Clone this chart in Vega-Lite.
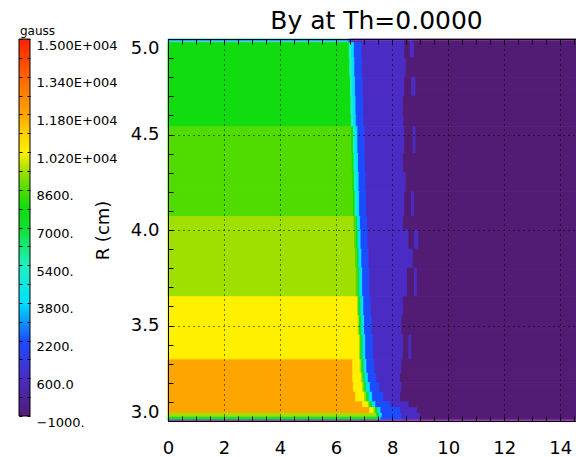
{
  "$schema": "https://vega.github.io/schema/vega-lite/v6.json",
  "autosize": {"type": "pad"},
  "padding": {"left": 18, "top": 8, "right": 0, "bottom": 0},
  "background": "white",
  "spacing": 138,
  "bounds": "flush",
  "config": {
    "view": {"stroke": "black", "strokeWidth": 1},
    "axis": {"labelFont": "DejaVu Sans", "titleFont": "DejaVu Sans", "labelColor": "black", "tickColor": "black"}
  },
  "datasets": {
    "cells": [
      {"z0":0,"z1":6.46,"r0":4.98,"r1":5,"By":4600},{"z0":6.46,"z1":6.6,"r0":4.98,"r1":5,"By":2200},{"z0":6.6,"z1":8.42,"r0":4.98,"r1":5,"By":600},{"z0":8.42,"z1":8.6,"r0":4.98,"r1":5,"By":-1000},{"z0":8.6,"z1":8.75,"r0":4.98,"r1":5,"By":600},{"z0":8.75,"z1":14.6,"r0":4.98,"r1":5,"By":-1000},

      {"z0":0,"z1":6.47,"r0":4.9,"r1":4.98,"By":7800},{"z0":6.47,"z1":6.55,"r0":4.9,"r1":4.98,"By":5400},{"z0":6.55,"z1":6.65,"r0":4.9,"r1":4.98,"By":3800},{"z0":6.65,"z1":6.92,"r0":4.9,"r1":4.98,"By":2200},{"z0":6.92,"z1":8.45,"r0":4.9,"r1":4.98,"By":600},{"z0":8.45,"z1":8.65,"r0":4.9,"r1":4.98,"By":-1000},{"z0":8.65,"z1":8.8,"r0":4.9,"r1":4.98,"By":600},{"z0":8.8,"z1":14.6,"r0":4.9,"r1":4.98,"By":-1000},

      {"z0":0,"z1":6.49,"r0":4.8,"r1":4.9,"By":7800},{"z0":6.49,"z1":6.57,"r0":4.8,"r1":4.9,"By":5400},{"z0":6.57,"z1":6.67,"r0":4.8,"r1":4.9,"By":3800},{"z0":6.67,"z1":6.94,"r0":4.8,"r1":4.9,"By":2200},{"z0":6.94,"z1":8.5,"r0":4.8,"r1":4.9,"By":600},{"z0":8.5,"z1":14.6,"r0":4.8,"r1":4.9,"By":-1000},

      {"z0":0,"z1":6.51,"r0":4.7,"r1":4.8,"By":7800},{"z0":6.51,"z1":6.59,"r0":4.7,"r1":4.8,"By":5400},{"z0":6.59,"z1":6.69,"r0":4.7,"r1":4.8,"By":3800},{"z0":6.69,"z1":6.96,"r0":4.7,"r1":4.8,"By":2200},{"z0":6.96,"z1":8.45,"r0":4.7,"r1":4.8,"By":600},{"z0":8.45,"z1":8.7,"r0":4.7,"r1":4.8,"By":-1000},{"z0":8.7,"z1":8.85,"r0":4.7,"r1":4.8,"By":600},{"z0":8.85,"z1":14.6,"r0":4.7,"r1":4.8,"By":-1000},

      {"z0":0,"z1":6.53,"r0":4.6,"r1":4.7,"By":7800},{"z0":6.53,"z1":6.61,"r0":4.6,"r1":4.7,"By":5400},{"z0":6.61,"z1":6.71,"r0":4.6,"r1":4.7,"By":3800},{"z0":6.71,"z1":6.98,"r0":4.6,"r1":4.7,"By":2200},{"z0":6.98,"z1":8.4,"r0":4.6,"r1":4.7,"By":600},{"z0":8.4,"z1":14.6,"r0":4.6,"r1":4.7,"By":-1000},

      {"z0":0,"z1":6.54,"r0":4.54,"r1":4.6,"By":7800},{"z0":6.54,"z1":6.62,"r0":4.54,"r1":4.6,"By":5400},{"z0":6.62,"z1":6.72,"r0":4.54,"r1":4.6,"By":3800},{"z0":6.72,"z1":6.99,"r0":4.54,"r1":4.6,"By":2200},{"z0":6.99,"z1":8.42,"r0":4.54,"r1":4.6,"By":600},{"z0":8.42,"z1":14.6,"r0":4.54,"r1":4.6,"By":-1000},

      {"z0":0,"z1":6.56,"r0":4.4,"r1":4.54,"By":8600},{"z0":6.56,"z1":6.62,"r0":4.4,"r1":4.54,"By":7800},{"z0":6.62,"z1":6.68,"r0":4.4,"r1":4.54,"By":5400},{"z0":6.68,"z1":6.78,"r0":4.4,"r1":4.54,"By":3800},{"z0":6.78,"z1":7.03,"r0":4.4,"r1":4.54,"By":2200},{"z0":7.03,"z1":8.45,"r0":4.4,"r1":4.54,"By":600},{"z0":8.45,"z1":8.75,"r0":4.4,"r1":4.54,"By":-1000},{"z0":8.75,"z1":8.85,"r0":4.4,"r1":4.54,"By":600},{"z0":8.85,"z1":14.6,"r0":4.4,"r1":4.54,"By":-1000},

      {"z0":0,"z1":6.58,"r0":4.3,"r1":4.4,"By":8600},{"z0":6.58,"z1":6.64,"r0":4.3,"r1":4.4,"By":7800},{"z0":6.64,"z1":6.7,"r0":4.3,"r1":4.4,"By":5400},{"z0":6.7,"z1":6.8,"r0":4.3,"r1":4.4,"By":3800},{"z0":6.8,"z1":7.05,"r0":4.3,"r1":4.4,"By":2200},{"z0":7.05,"z1":8.4,"r0":4.3,"r1":4.4,"By":600},{"z0":8.4,"z1":14.6,"r0":4.3,"r1":4.4,"By":-1000},

      {"z0":0,"z1":6.6,"r0":4.2,"r1":4.3,"By":8600},{"z0":6.6,"z1":6.66,"r0":4.2,"r1":4.3,"By":7800},{"z0":6.66,"z1":6.72,"r0":4.2,"r1":4.3,"By":5400},{"z0":6.72,"z1":6.82,"r0":4.2,"r1":4.3,"By":3800},{"z0":6.82,"z1":7.07,"r0":4.2,"r1":4.3,"By":2200},{"z0":7.07,"z1":8.5,"r0":4.2,"r1":4.3,"By":600},{"z0":8.5,"z1":14.6,"r0":4.2,"r1":4.3,"By":-1000},

      {"z0":0,"z1":6.62,"r0":4.07,"r1":4.2,"By":8600},{"z0":6.62,"z1":6.68,"r0":4.07,"r1":4.2,"By":7800},{"z0":6.68,"z1":6.74,"r0":4.07,"r1":4.2,"By":5400},{"z0":6.74,"z1":6.84,"r0":4.07,"r1":4.2,"By":3800},{"z0":6.84,"z1":7.09,"r0":4.07,"r1":4.2,"By":2200},{"z0":7.09,"z1":8.45,"r0":4.07,"r1":4.2,"By":600},{"z0":8.45,"z1":8.7,"r0":4.07,"r1":4.2,"By":-1000},{"z0":8.7,"z1":8.8,"r0":4.07,"r1":4.2,"By":600},{"z0":8.8,"z1":14.6,"r0":4.07,"r1":4.2,"By":-1000},

      {"z0":0,"z1":6.64,"r0":4.0,"r1":4.07,"By":9400},{"z0":6.64,"z1":6.71,"r0":4.0,"r1":4.07,"By":8600},{"z0":6.71,"z1":6.77,"r0":4.0,"r1":4.07,"By":7000},{"z0":6.77,"z1":6.87,"r0":4.0,"r1":4.07,"By":3800},{"z0":6.87,"z1":7.12,"r0":4.0,"r1":4.07,"By":2200},{"z0":7.12,"z1":8.4,"r0":4.0,"r1":4.07,"By":600},{"z0":8.4,"z1":14.6,"r0":4.0,"r1":4.07,"By":-1000},

      {"z0":0,"z1":6.66,"r0":3.9,"r1":4.0,"By":9400},{"z0":6.66,"z1":6.73,"r0":3.9,"r1":4.0,"By":8600},{"z0":6.73,"z1":6.79,"r0":3.9,"r1":4.0,"By":7000},{"z0":6.79,"z1":6.89,"r0":3.9,"r1":4.0,"By":3800},{"z0":6.89,"z1":7.14,"r0":3.9,"r1":4.0,"By":2200},{"z0":7.14,"z1":8.6,"r0":3.9,"r1":4.0,"By":600},{"z0":8.6,"z1":8.8,"r0":3.9,"r1":4.0,"By":-1000},{"z0":8.8,"z1":8.95,"r0":3.9,"r1":4.0,"By":600},{"z0":8.95,"z1":14.6,"r0":3.9,"r1":4.0,"By":-1000},

      {"z0":0,"z1":6.69,"r0":3.8,"r1":3.9,"By":9400},{"z0":6.69,"z1":6.76,"r0":3.8,"r1":3.9,"By":8600},{"z0":6.76,"z1":6.82,"r0":3.8,"r1":3.9,"By":7000},{"z0":6.82,"z1":6.92,"r0":3.8,"r1":3.9,"By":3800},{"z0":6.92,"z1":7.17,"r0":3.8,"r1":3.9,"By":2200},{"z0":7.17,"z1":8.75,"r0":3.8,"r1":3.9,"By":600},{"z0":8.75,"z1":14.6,"r0":3.8,"r1":3.9,"By":-1000},

      {"z0":0,"z1":6.72,"r0":3.65,"r1":3.8,"By":9400},{"z0":6.72,"z1":6.79,"r0":3.65,"r1":3.8,"By":8600},{"z0":6.79,"z1":6.85,"r0":3.65,"r1":3.8,"By":7000},{"z0":6.85,"z1":6.95,"r0":3.65,"r1":3.8,"By":3800},{"z0":6.95,"z1":7.2,"r0":3.65,"r1":3.8,"By":2200},{"z0":7.2,"z1":8.55,"r0":3.65,"r1":3.8,"By":600},{"z0":8.55,"z1":8.8,"r0":3.65,"r1":3.8,"By":-1000},{"z0":8.8,"z1":8.9,"r0":3.65,"r1":3.8,"By":600},{"z0":8.9,"z1":14.6,"r0":3.65,"r1":3.8,"By":-1000},

      {"z0":0,"z1":6.76,"r0":3.55,"r1":3.65,"By":10200},{"z0":6.76,"z1":6.81,"r0":3.55,"r1":3.65,"By":9400},{"z0":6.81,"z1":6.89,"r0":3.55,"r1":3.65,"By":7000},{"z0":6.89,"z1":6.99,"r0":3.55,"r1":3.65,"By":3800},{"z0":6.99,"z1":7.24,"r0":3.55,"r1":3.65,"By":2200},{"z0":7.24,"z1":8.4,"r0":3.55,"r1":3.65,"By":600},{"z0":8.4,"z1":14.6,"r0":3.55,"r1":3.65,"By":-1000},

      {"z0":0,"z1":6.79,"r0":3.45,"r1":3.55,"By":10200},{"z0":6.79,"z1":6.84,"r0":3.45,"r1":3.55,"By":9400},{"z0":6.84,"z1":6.92,"r0":3.45,"r1":3.55,"By":7000},{"z0":6.92,"z1":7.02,"r0":3.45,"r1":3.55,"By":3800},{"z0":7.02,"z1":7.28,"r0":3.45,"r1":3.55,"By":2200},{"z0":7.28,"z1":8.35,"r0":3.45,"r1":3.55,"By":600},{"z0":8.35,"z1":14.6,"r0":3.45,"r1":3.55,"By":-1000},

      {"z0":0,"z1":6.83,"r0":3.32,"r1":3.45,"By":10200},{"z0":6.83,"z1":6.88,"r0":3.32,"r1":3.45,"By":9400},{"z0":6.88,"z1":6.96,"r0":3.32,"r1":3.45,"By":7000},{"z0":6.96,"z1":7.06,"r0":3.32,"r1":3.45,"By":3800},{"z0":7.06,"z1":7.33,"r0":3.32,"r1":3.45,"By":2200},{"z0":7.33,"z1":8.4,"r0":3.32,"r1":3.45,"By":600},{"z0":8.4,"z1":8.6,"r0":3.32,"r1":3.45,"By":-1000},{"z0":8.6,"z1":8.7,"r0":3.32,"r1":3.45,"By":600},{"z0":8.7,"z1":14.6,"r0":3.32,"r1":3.45,"By":-1000},

      {"z0":0,"z1":6.6,"r0":3.25,"r1":3.32,"By":11800},{"z0":6.6,"z1":6.86,"r0":3.25,"r1":3.32,"By":10200},{"z0":6.86,"z1":6.92,"r0":3.25,"r1":3.32,"By":9400},{"z0":6.92,"z1":7.0,"r0":3.25,"r1":3.32,"By":7000},{"z0":7.0,"z1":7.1,"r0":3.25,"r1":3.32,"By":3800},{"z0":7.1,"z1":7.38,"r0":3.25,"r1":3.32,"By":2200},{"z0":7.38,"z1":8.35,"r0":3.25,"r1":3.32,"By":600},{"z0":8.35,"z1":14.6,"r0":3.25,"r1":3.32,"By":-1000},

      {"z0":0,"z1":6.6,"r0":3.2,"r1":3.25,"By":11800},{"z0":6.6,"z1":6.9,"r0":3.2,"r1":3.25,"By":10200},{"z0":6.9,"z1":6.96,"r0":3.2,"r1":3.25,"By":9400},{"z0":6.96,"z1":7.04,"r0":3.2,"r1":3.25,"By":7000},{"z0":7.04,"z1":7.15,"r0":3.2,"r1":3.25,"By":3800},{"z0":7.15,"z1":7.45,"r0":3.2,"r1":3.25,"By":2200},{"z0":7.45,"z1":8.3,"r0":3.2,"r1":3.25,"By":600},{"z0":8.3,"z1":14.6,"r0":3.2,"r1":3.25,"By":-1000},

      {"z0":0,"z1":6.62,"r0":3.15,"r1":3.2,"By":11800},{"z0":6.62,"z1":6.95,"r0":3.15,"r1":3.2,"By":10200},{"z0":6.95,"z1":7.0,"r0":3.15,"r1":3.2,"By":9400},{"z0":7.0,"z1":7.1,"r0":3.15,"r1":3.2,"By":7000},{"z0":7.1,"z1":7.22,"r0":3.15,"r1":3.2,"By":3800},{"z0":7.22,"z1":7.55,"r0":3.15,"r1":3.2,"By":2200},{"z0":7.55,"z1":8.35,"r0":3.15,"r1":3.2,"By":600},{"z0":8.35,"z1":14.6,"r0":3.15,"r1":3.2,"By":-1000},

      {"z0":0,"z1":6.7,"r0":3.1,"r1":3.15,"By":11800},{"z0":6.7,"z1":7.02,"r0":3.1,"r1":3.15,"By":10200},{"z0":7.02,"z1":7.08,"r0":3.1,"r1":3.15,"By":9400},{"z0":7.08,"z1":7.18,"r0":3.1,"r1":3.15,"By":7000},{"z0":7.18,"z1":7.3,"r0":3.1,"r1":3.15,"By":3800},{"z0":7.3,"z1":7.7,"r0":3.1,"r1":3.15,"By":2200},{"z0":7.7,"z1":8.3,"r0":3.1,"r1":3.15,"By":600},{"z0":8.3,"z1":14.6,"r0":3.1,"r1":3.15,"By":-1000},

      {"z0":0,"z1":6.95,"r0":3.07,"r1":3.1,"By":11800},{"z0":6.95,"z1":7.15,"r0":3.07,"r1":3.1,"By":10200},{"z0":7.15,"z1":7.2,"r0":3.07,"r1":3.1,"By":9400},{"z0":7.2,"z1":7.3,"r0":3.07,"r1":3.1,"By":7000},{"z0":7.3,"z1":7.42,"r0":3.07,"r1":3.1,"By":3800},{"z0":7.42,"z1":7.95,"r0":3.07,"r1":3.1,"By":2200},{"z0":7.95,"z1":8.6,"r0":3.07,"r1":3.1,"By":600},{"z0":8.6,"z1":14.6,"r0":3.07,"r1":3.1,"By":-1000},

      {"z0":0,"z1":7.2,"r0":3.04,"r1":3.07,"By":11800},{"z0":7.2,"z1":7.35,"r0":3.04,"r1":3.07,"By":10200},{"z0":7.35,"z1":7.4,"r0":3.04,"r1":3.07,"By":9400},{"z0":7.4,"z1":7.5,"r0":3.04,"r1":3.07,"By":7000},{"z0":7.5,"z1":7.6,"r0":3.04,"r1":3.07,"By":3800},{"z0":7.6,"z1":8.3,"r0":3.04,"r1":3.07,"By":2200},{"z0":8.3,"z1":8.9,"r0":3.04,"r1":3.07,"By":600},{"z0":8.9,"z1":14.6,"r0":3.04,"r1":3.07,"By":-1000},

      {"z0":0,"z1":7.45,"r0":3.02,"r1":3.04,"By":9400},{"z0":7.45,"z1":7.55,"r0":3.02,"r1":3.04,"By":7000},{"z0":7.55,"z1":7.65,"r0":3.02,"r1":3.04,"By":3800},{"z0":7.65,"z1":8.35,"r0":3.02,"r1":3.04,"By":2200},{"z0":8.35,"z1":9.0,"r0":3.02,"r1":3.04,"By":600},{"z0":9.0,"z1":14.6,"r0":3.02,"r1":3.04,"By":-1000},

      {"z0":0,"z1":7.5,"r0":3.0,"r1":3.02,"By":7000},{"z0":7.5,"z1":7.6,"r0":3.0,"r1":3.02,"By":3800},{"z0":7.6,"z1":8.35,"r0":3.0,"r1":3.02,"By":2200},{"z0":8.35,"z1":9.0,"r0":3.0,"r1":3.02,"By":600},{"z0":9.0,"z1":14.6,"r0":3.0,"r1":3.02,"By":-1000}
    ]
  },
  "hconcat": [
    {
      "width": 11,
      "height": 377,
      "title": {"text": "gauss", "anchor": "start", "frame": "group", "font": "DejaVu Sans", "fontSize": 12, "fontWeight": "normal", "color": "black", "offset": 1, "dx": 1},
      "data": {"values": [{"lo": -1000, "hi": 15000, "a": 0, "b": 1}]},
      "view": {"stroke": null},
      "layer": [
        {
          "mark": {
            "type": "rect",
            "stroke": "black",
            "strokeWidth": 1,
            "fill": {
              "gradient": "linear",
              "x1": 0, "y1": 1, "x2": 0, "y2": 0,
              "stops": [
                {"offset": 0, "color": "#521c74"},
                {"offset": 0.1, "color": "#4a2cc4"},
                {"offset": 0.2, "color": "#1c4cff"},
                {"offset": 0.3, "color": "#00e0ff"},
                {"offset": 0.4, "color": "#20f0c0"},
                {"offset": 0.5, "color": "#10e030"},
                {"offset": 0.55, "color": "#10dc10"},
                {"offset": 0.6, "color": "#50dc00"},
                {"offset": 0.65, "color": "#a0e000"},
                {"offset": 0.7, "color": "#fff000"},
                {"offset": 0.75, "color": "#ffd000"},
                {"offset": 0.8, "color": "#ffa500"},
                {"offset": 0.9, "color": "#ff6400"},
                {"offset": 1, "color": "#ff2000"}
              ]
            }
          },
          "encoding": {
            "x": {"field": "a", "type": "quantitative", "scale": {"domain": [0, 1], "nice": false, "zero": false}, "axis": null},
            "x2": {"field": "b"},
            "y": {
              "field": "lo",
              "type": "quantitative",
              "scale": {"domain": [-1000, 15000], "nice": false, "zero": false},
              "axis": {
                "orient": "right",
                "values": [-1000,-200,600,1400,2200,3000,3800,4600,5400,6200,7000,7800,8600,9400,10200,11000,11800,12600,13400,14200,15000],
                "labelExpr": "(datum.value + 1000) % 1600 !== 0 ? '' : datum.value >= 10000 ? format(datum.value / 10000, '.3f') + 'E+004' : datum.value < 0 ? '\u22121000.' : datum.value == 600 ? '600.0' : format(datum.value, 'd') + '.'",
                "labelFontSize": 13,
                "labelBaseline": "top",
                "labelFlush": false,
                "labelOverlap": false,
                "labelPadding": 9,
                "tickSize": -3,
                "tickWidth": 1,
                "domain": false,
                "grid": false,
                "title": null,
                "zindex": 1
              }
            },
            "y2": {"field": "hi"}
          }
        },
        {
          "mark": {"type": "rect", "opacity": 0},
          "encoding": {
            "x": {"field": "a", "type": "quantitative", "axis": null},
            "x2": {"field": "b"},
            "y": {
              "field": "lo",
              "type": "quantitative",
              "axis": {
                "orient": "left",
                "values": [-1000,-200,600,1400,2200,3000,3800,4600,5400,6200,7000,7800,8600,9400,10200,11000,11800,12600,13400,14200,15000],
                "labels": false,
                "tickSize": -3,
                "tickWidth": 1,
                "domain": false,
                "grid": false,
                "title": null,
                "zindex": 1
              }
            },
            "y2": {"field": "hi"}
          }
        }
      ],
      "resolve": {"axis": {"y": "independent"}}
    },
    {
      "width": 409,
      "height": 382,
      "title": {
        "text": "By at Th=0.0000",
        "font": "DejaVu Sans",
        "fontSize": 25,
        "fontWeight": "normal",
        "color": "black",
        "anchor": "middle",
        "frame": "group",
        "baseline": "alphabetic",
        "offset": -15,
        "dx": 4
      },
      "layer": [
        {
          "data": {"name": "cells"},
          "mark": {"type": "rect", "strokeWidth": 1},
          "encoding": {
            "x": {
              "field": "z0",
              "type": "quantitative",
              "scale": {"domain": [0, 14.6], "nice": false, "zero": false},
              "axis": {
                "orient": "bottom",
                "values": [0,0.5,1,1.5,2,2.5,3,3.5,4,4.5,5,5.5,6,6.5,7,7.5,8,8.5,9,9.5,10,10.5,11,11.5,12,12.5,13,13.5,14,14.5],
                "labelExpr": "datum.value % 2 === 0 ? format(datum.value, 'd') : ''",
                "labelFontSize": 18,
                "labelPadding": 23,
                "labelOverlap": false,
                "labelFlush": false,
                "tickSize": -5,
                "tickWidth": 1,
                "domain": true,
                "domainColor": "black",
                "grid": true,
                "gridColor": "black",
                "gridWidth": 1,
                "gridDash": [1, 4],
                "gridOpacity": {"condition": {"test": "datum.value % 2 === 0 && datum.value > 0", "value": 1}, "value": 0},
                "title": null,
                "zindex": 1
              }
            },
            "x2": {"field": "z1"},
            "y": {
              "field": "r0",
              "type": "quantitative",
              "scale": {"domain": [3, 5], "nice": false, "zero": false},
              "axis": {
                "orient": "left",
                "values": [3,3.1,3.2,3.3,3.4,3.5,3.6,3.7,3.8,3.9,4,4.1,4.2,4.3,4.4,4.5,4.6,4.7,4.8,4.9,5],
                "labelExpr": "abs(datum.value * 2 - round(datum.value * 2)) < 0.01 ? format(datum.value, '.1f') : ''",
                "labelFlush": true,
                "labelFontSize": 18,
                "labelPadding": 14,
                "labelOverlap": false,
                "tickSize": -5,
                "tickWidth": 1,
                "domain": true,
                "domainColor": "black",
                "grid": true,
                "gridColor": "black",
                "gridWidth": 1,
                "gridDash": [1, 4],
                "gridOpacity": {"condition": {"test": "abs(datum.value * 2 - round(datum.value * 2)) < 0.01 && datum.value > 3.01 && datum.value < 4.99", "value": 1}, "value": 0},
                "title": "R (cm)",
                "titleFontSize": 18,
                "titleFontWeight": "normal",
                "titleColor": "black",
                "titlePadding": 18,
                "zindex": 1
              }
            },
            "y2": {"field": "r1"},
            "color": {
              "field": "By",
              "type": "quantitative",
              "scale": {
                "type": "linear",
                "interpolate": "rgb",
                "domain": [-1000, 600, 2200, 3800, 5400, 7000, 7800, 8600, 9400, 10200, 11000, 11800, 13400, 15000],
                "range": ["#521c74", "#4a2cc4", "#1c4cff", "#00e0ff", "#20f0c0", "#10e030", "#10dc10", "#50dc00", "#a0e000", "#fff000", "#ffd000", "#ffa500", "#ff6400", "#ff2000"]
              },
              "legend": null
            },
            "stroke": {
              "field": "By",
              "type": "quantitative",
              "scale": {
                "type": "linear",
                "interpolate": "rgb",
                "domain": [-1000, 600, 2200, 3800, 5400, 7000, 7800, 8600, 9400, 10200, 11000, 11800, 13400, 15000],
                "range": ["#521c74", "#4a2cc4", "#1c4cff", "#00e0ff", "#20f0c0", "#10e030", "#10dc10", "#50dc00", "#a0e000", "#fff000", "#ffd000", "#ffa500", "#ff6400", "#ff2000"]
              },
              "legend": null
            }
          }
        },
        {
          "data": {"values": [{"R": 5.0}, {"R": 3.0}]},
          "mark": {"type": "rule", "color": "#a33cb4", "strokeWidth": 3, "clip": true},
          "encoding": {
            "y": {"field": "R", "type": "quantitative", "axis": null},
            "x": {
              "datum": 0,
              "type": "quantitative",
              "axis": {
                "orient": "top",
                "values": [0,0.5,1,1.5,2,2.5,3,3.5,4,4.5,5,5.5,6,6.5,7,7.5,8,8.5,9,9.5,10,10.5,11,11.5,12,12.5,13,13.5,14,14.5],
                "labels": false,
                "tickSize": -5,
                "tickWidth": 1,
                "domain": true,
                "domainColor": "black",
                "grid": false,
                "title": null,
                "zindex": 1
              }
            },
            "x2": {"datum": 14.6}
          }
        }
      ],
      "resolve": {"axis": {"x": "independent", "y": "independent"}}
    }
  ]
}
